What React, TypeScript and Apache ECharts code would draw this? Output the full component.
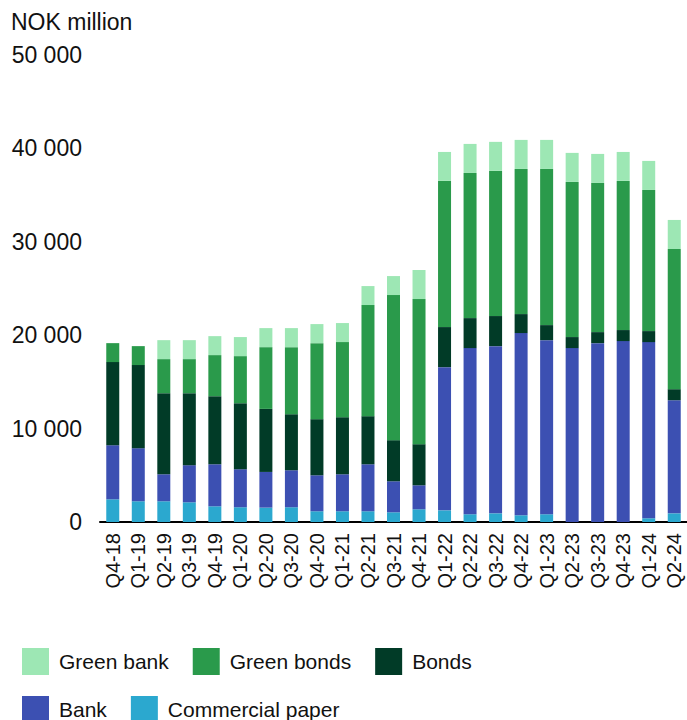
import React, { useEffect, useRef } from "react";
import * as echarts from "echarts";

const categories = [
  "Q4-18", "Q1-19", "Q2-19", "Q3-19", "Q4-19", "Q1-20", "Q2-20", "Q3-20",
  "Q4-20", "Q1-21", "Q2-21", "Q3-21", "Q4-21", "Q1-22", "Q2-22", "Q3-22",
  "Q4-22", "Q1-23", "Q2-23", "Q3-23", "Q4-23", "Q1-24", "Q2-24",
];

const commercialPaper = [2430, 2220, 2220, 2110, 1680, 1580, 1540, 1580, 1150, 1150, 1150, 1040, 1360, 1250, 830, 930, 720, 830, 0, 0, 0, 400, 930];
const bank = [5790, 5680, 2890, 3970, 4500, 4070, 3820, 3960, 3850, 3960, 5030, 3320, 2570, 15330, 17790, 17900, 19510, 18640, 18620, 19150, 19370, 18860, 12110];
const bonds = [8900, 8900, 8680, 7710, 7290, 7070, 6750, 6000, 6010, 6110, 5150, 4400, 4400, 4290, 3210, 3220, 2030, 1610, 1180, 1180, 1180, 1180, 1180];
const greenBonds = [2030, 2030, 3650, 3650, 4400, 5040, 6610, 7180, 8140, 8040, 11900, 15540, 15540, 15650, 15540, 15540, 15540, 16720, 16610, 15970, 15970, 15110, 15010];
const greenBank = [0, 0, 2030, 2030, 2030, 2040, 2040, 2040, 2040, 2040, 2030, 2030, 3110, 3100, 3110, 3110, 3110, 3110, 3110, 3110, 3100, 3110, 3110];

const yTicks = [0, 10000, 20000, 30000, 40000, 50000];

const FONT = "Liberation Sans, Arial, sans-serif";

export default function App() {
  const ref = useRef<HTMLDivElement>(null);

  useEffect(() => {
    if (!ref.current) return;
    const chart = echarts.init(ref.current, null, { renderer: "svg" });
    const mk = (name: string, data: number[], color: string) => ({
      name,
      type: "bar",
      stack: "total",
      data,
      barWidth: 13,
      itemStyle: { color },
      emphasis: { disabled: true },
    });
    const legendBase = {
      left: 22,
      orient: "horizontal",
      icon: "rect",
      itemWidth: 27,
      itemHeight: 27,
      itemGap: 24,
      padding: 0,
      selectedMode: false,
      itemStyle: { borderWidth: 0 },
      textStyle: { fontSize: 21, color: "#111", fontFamily: FONT, padding: [0, 0, 0, 5] },
    };
    chart.setOption({
      animation: false,
      textStyle: { fontFamily: FONT },
      grid: { left: 100, width: 591, top: 55, height: 467, containLabel: false },
      graphic: [
        {
          type: "text",
          left: 11,
          top: 10,
          style: { text: "NOK million", font: `23px ${FONT}`, fill: "#111" },
        },
      ],
      xAxis: {
        type: "category",
        data: categories,
        axisLine: { show: true, lineStyle: { color: "#000", width: 2 } },
        axisTick: { show: false },
        axisLabel: {
          rotate: 90,
          margin: 11,
          interval: 0,
          fontSize: 20,
          color: "#111",
          fontFamily: FONT,
        },
      },
      yAxis: {
        type: "value",
        min: yTicks[0],
        max: yTicks[yTicks.length - 1],
        interval: 10000,
        axisLine: { show: false },
        axisTick: { show: false },
        splitLine: { show: false },
        axisLabel: {
          margin: 18,
          fontSize: 23,
          color: "#111",
          fontFamily: FONT,
          formatter: (v: number) => String(v).replace(/\B(?=(\d{3})+(?!\d))/g, " "),
        },
      },
      legend: [
        { ...legendBase, data: ["Green bank", "Green bonds", "Bonds"], top: 648 },
        { ...legendBase, data: ["Bank", "Commercial paper"], top: 696 },
      ],
      series: [
        mk("Commercial paper", commercialPaper, "#2ba8cf"),
        mk("Bank", bank, "#3c50b2"),
        mk("Bonds", bonds, "#013b27"),
        mk("Green bonds", greenBonds, "#2a9a4b"),
        mk("Green bank", greenBank, "#9de7b4"),
      ],
    });
    return () => chart.dispose();
  }, []);

  return (
    <div style={{ position: "fixed", left: 0, top: 0, width: 687, height: 720, overflow: "hidden", background: "#fff" }}>
      <div ref={ref} style={{ width: 687, height: 720 }} />
    </div>
  );
}
